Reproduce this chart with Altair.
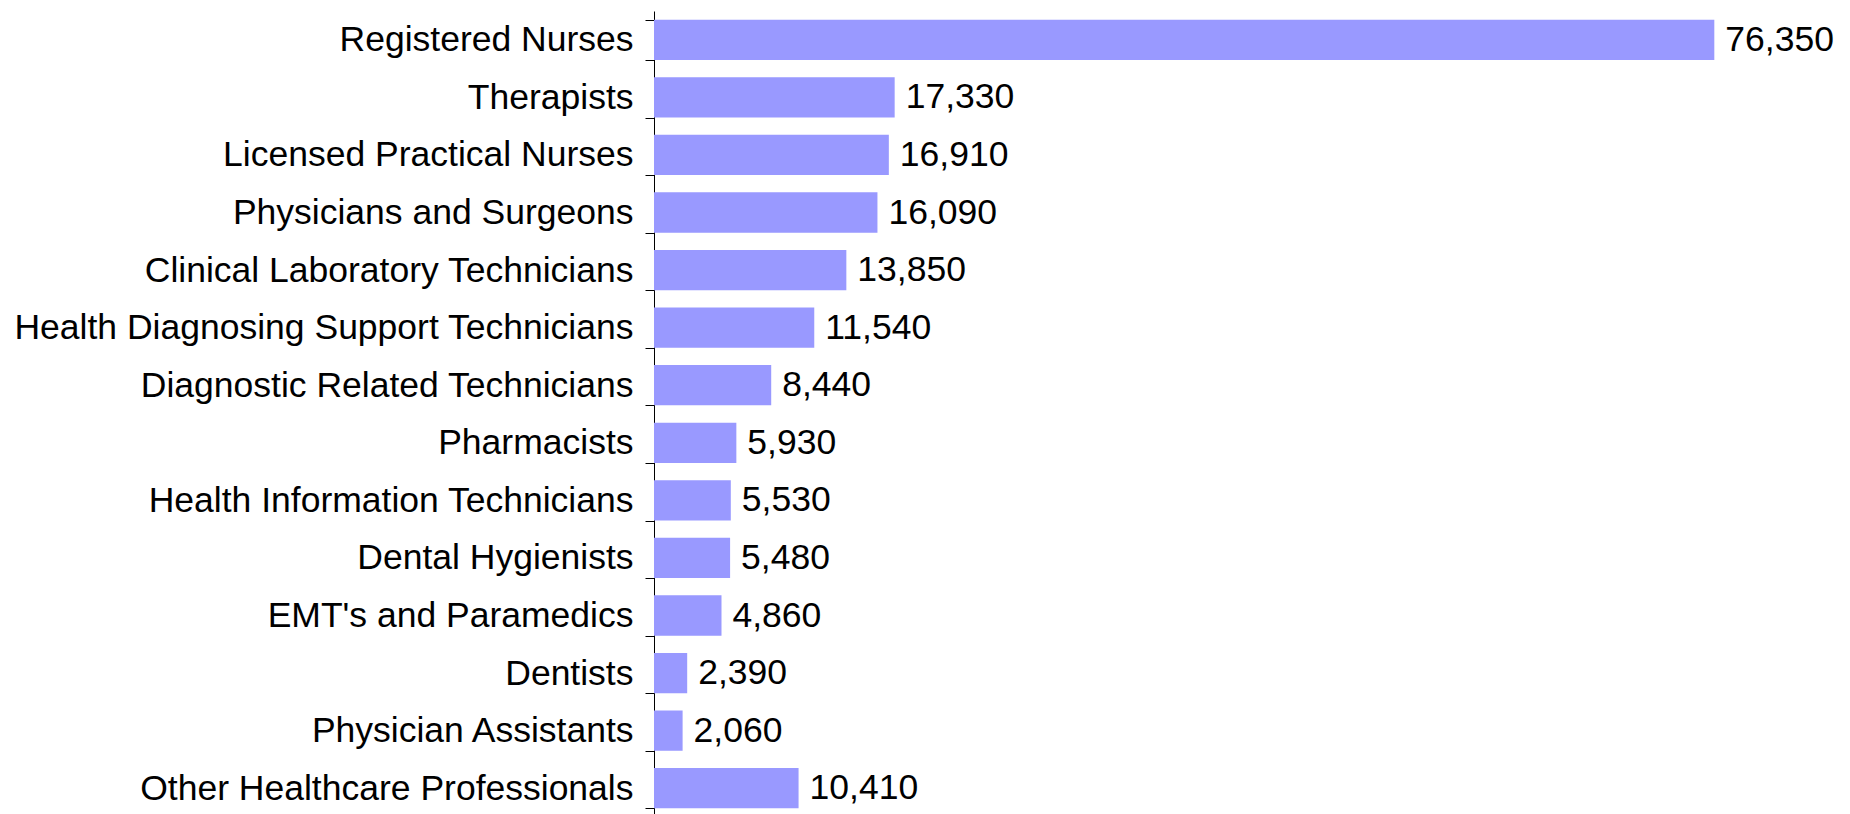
import altair as alt
import pandas as pd

categories = [
    "Registered Nurses",
    "Therapists",
    "Licensed Practical Nurses",
    "Physicians and Surgeons",
    "Clinical Laboratory Technicians",
    "Health Diagnosing Support Technicians",
    "Diagnostic Related Technicians",
    "Pharmacists",
    "Health Information Technicians",
    "Dental Hygienists",
    "EMT's and Paramedics",
    "Dentists",
    "Physician Assistants",
    "Other Healthcare Professionals",
]
values = [76350, 17330, 16910, 16090, 13850, 11540, 8440, 5930, 5530, 5480, 4860, 2390, 2060, 10410]

df = pd.DataFrame({"category": categories, "value": values})

FONT = "Liberation Sans"

y_enc = alt.Y(
    "category:N",
    sort=categories,
    title=None,
    scale=alt.Scale(paddingInner=0.3, paddingOuter=0.15),
    axis=alt.Axis(
        labelFont=FONT,
        labelFontSize=35.5,
        labelColor="#000000",
        labelPadding=12,
        tickSize=9,
        tickColor="#000000",
        domainColor="#000000",
        tickBand="extent",
        labelLimit=0,
    ),
)
x_enc = alt.X(
    "value:Q",
    title=None,
    scale=alt.Scale(domain=[0, 80000], nice=False),
    axis=None,
)

bars = alt.Chart(df).mark_bar(color="#9999FF").encode(y=y_enc, x=x_enc)
labels = alt.Chart(df).mark_text(
    align="left", baseline="middle", dx=11, font=FONT, fontSize=35.5, color="#000000"
).encode(y=y_enc, x=x_enc, text=alt.Text("value:Q", format=","))

chart = (
    alt.layer(bars, labels)
    .properties(width=1111, height=806, padding={"left": 5, "top": -14, "right": 5, "bottom": 0})
    .configure_view(stroke=None)
)

chart.save("out.html", embed_options={"renderer": "svg", "actions": False})
